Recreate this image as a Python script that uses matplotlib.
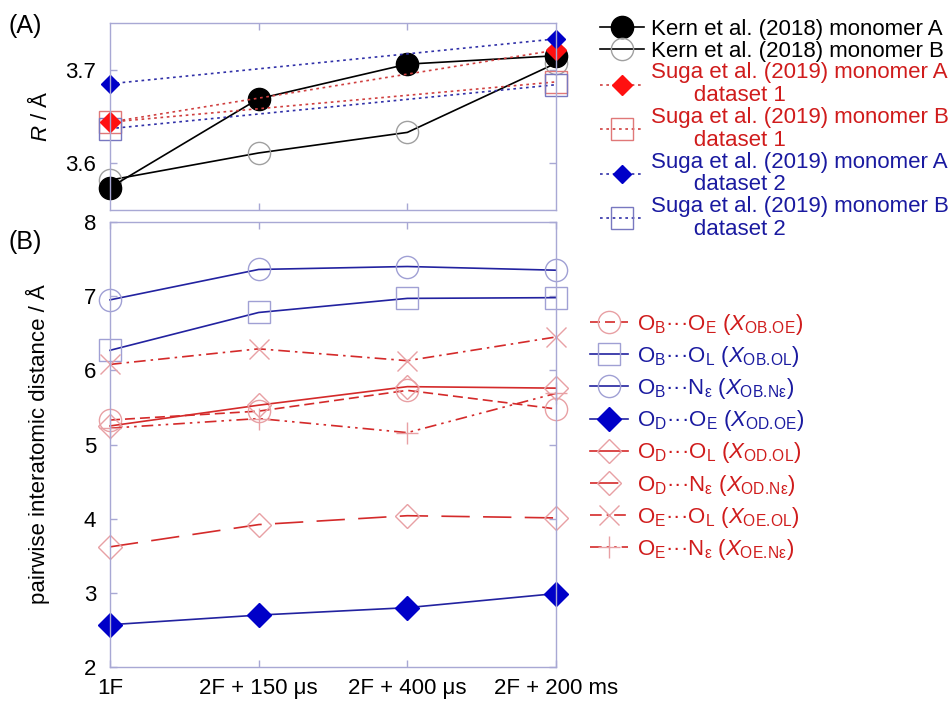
import numpy as np
import matplotlib
matplotlib.use("Agg")
import matplotlib.pyplot as plt
from matplotlib.ticker import MultipleLocator

plt.rcParams['font.family'] = ['Liberation Sans', 'DejaVu Sans']
plt.rcParams['mathtext.fontset'] = 'custom'
plt.rcParams['mathtext.rm'] = 'Liberation Sans'
plt.rcParams['mathtext.it'] = 'Liberation Sans:italic'
plt.rcParams['mathtext.bf'] = 'Liberation Sans:bold'
plt.rcParams['font.size'] = 16

# data
time_points = ["1F", "2F + 150 \u03bcs", "2F + 400 \u03bcs", "2F + 200 ms"]
x_all = [0, 1, 2, 3]
x_suga = [0, 3]

kern_A = [3.574, 3.669, 3.706, 3.715]
kern_B = [3.582, 3.611, 3.633, 3.707]
suga_A_ds1 = [3.644, 3.721]
suga_B_ds1 = [3.644, 3.687]
suga_A_ds2 = [3.685, 3.733]
suga_B_ds2 = [3.637, 3.684]

x_OB_OE = [5.33, 5.45, 5.73, 5.48]
x_OB_OL = [6.27, 6.78, 6.97, 6.98]
x_OB_Ne = [6.95, 7.36, 7.40, 7.35]
x_OD_OE = [2.57, 2.70, 2.80, 2.99]
x_OD_OL = [5.25, 5.53, 5.78, 5.76]
x_OD_Ne = [3.62, 3.92, 4.04, 4.01]
x_OE_OL = [6.08, 6.29, 6.13, 6.45]
x_OE_Ne = [5.22, 5.35, 5.16, 5.69]

# colours
RED = "#d42a2a"
RED_TXT = "#d01c1c"
RED_MK = "#e8a0a4"
BLUE = "#2222a0"
BLUE_TXT = "#1a1aa0"
BLUE_MK = "#a0a0d4"
BLUE_FILL = "#0000c8"
SPINE = "#a8a8d4"
LW = 1.2

W, H = 952, 701
fig = plt.figure(figsize=(W / 100, H / 100), dpi=100)
ax1 = fig.add_axes([110 / W, 1 - 210 / H, 446 / W, 187 / H])
ax2 = fig.add_axes([110 / W, 1 - 667 / H, 446 / W, 445 / H])


def style_axes(ax):
    for s in ax.spines.values():
        s.set_color(SPINE)
        s.set_linewidth(1.0)
    ax.tick_params(direction="in", length=5, width=1.0, color=SPINE,
                   top=True, right=True, labelsize=16, pad=10)
    ax.set_xlim(0, 3)
    ax.set_xticks([1, 2], minor=False)


# ---- panel A ----
dot = (0, (1.6, 2.2))
h_kB, = ax1.plot(x_all, kern_B, "-", color="black", lw=LW, marker="o", ms=16,
                 mfc="none", mec="#a0a0a0", mew=1.0, clip_on=False)
h_kA, = ax1.plot(x_all, kern_A, "-", color="black", lw=LW, marker="o", ms=16,
                 mfc="black", mec="black", clip_on=False)
h_sB1, = ax1.plot(x_suga, suga_B_ds1, ls=dot, color="#d04040", lw=LW, marker="s", ms=16,
                  mfc="none", mec="#e07878", mew=1.0, clip_on=False)
h_sB2, = ax1.plot(x_suga, suga_B_ds2, ls=dot, color="#3030a8", lw=LW, marker="s", ms=16,
                  mfc="none", mec="#7878c0", mew=1.0, clip_on=False)
h_sA1, = ax1.plot(x_suga, suga_A_ds1, ls=dot, color="#d04040", lw=LW, marker="D", ms=10,
                  mfc="#ff1010", mec="#ff1010", clip_on=False)
h_sA2, = ax1.plot(x_suga, suga_A_ds2, ls=dot, color="#3030a8", lw=LW, marker="D", ms=9.5,
                  mfc=BLUE_FILL, mec=BLUE_FILL, clip_on=False)
style_axes(ax1)
ax1.set_ylim(3.55, 3.75)
ax1.yaxis.set_major_locator(MultipleLocator(0.1))
ax1.set_xticklabels([])
ax1.set_ylabel("$R$ / \u00c5", fontsize=16)
ax1.yaxis.set_label_coords(-0.13, 0.5)

sp = "       "
labA = ["Kern et al. (2018) monomer A", "Kern et al. (2018) monomer B",
        "Suga et al. (2019) monomer A\n" + sp + "dataset 1",
        "Suga et al. (2019) monomer B\n" + sp + "dataset 1",
        "Suga et al. (2019) monomer A\n" + sp + "dataset 2",
        "Suga et al. (2019) monomer B\n" + sp + "dataset 2"]
colA = ["black", "black", RED_TXT, RED_TXT, BLUE_TXT, BLUE_TXT]
legA = fig.legend([h_kA, h_kB, h_sA1, h_sB1, h_sA2, h_sB2], labA,
                  loc="upper left", bbox_to_anchor=(600 / W, 1 - 19 / H),
                  frameon=False, fontsize=16, numpoints=1, handlelength=2.0,
                  handletextpad=0.3, labelspacing=0.03, borderpad=0, borderaxespad=0)
for t, c in zip(legA.get_texts(), colA):
    t.set_color(c)
    t.set_linespacing(1.12)

# ---- panel B ----
h1, = ax2.plot(x_all, x_OB_OE, ls=(0, (6, 3)), color=RED, lw=LW, marker="o", ms=16,
               mfc="none", mec=RED_MK, mew=1.0, clip_on=False)
h2, = ax2.plot(x_all, x_OB_OL, "-", color=BLUE, lw=LW, marker="s", ms=16,
               mfc="none", mec=BLUE_MK, mew=1.0, clip_on=False)
h3, = ax2.plot(x_all, x_OB_Ne, "-", color=BLUE, lw=LW, marker="o", ms=16,
               mfc="none", mec=BLUE_MK, mew=1.0, clip_on=False)
h4, = ax2.plot(x_all, x_OD_OE, "-", color=BLUE, lw=LW, marker="D", ms=12,
               mfc=BLUE_FILL, mec=BLUE_FILL, clip_on=False)
h5, = ax2.plot(x_all, x_OD_OL, "-", color=RED, lw=LW, marker="D", ms=12,
               mfc="none", mec=RED_MK, mew=1.0, clip_on=False)
h6, = ax2.plot(x_all, x_OD_Ne, ls=(0, (17, 8)), color=RED, lw=LW, marker="D", ms=12,
               mfc="none", mec=RED_MK, mew=1.0, clip_on=False)
h7, = ax2.plot(x_all, x_OE_OL, ls=(0, (7, 3, 1.5, 3)), color=RED, lw=LW, marker="x", ms=15,
               mec=RED_MK, mew=1.0, clip_on=False)
h8, = ax2.plot(x_all, x_OE_Ne, ls=(0, (7, 3, 1.5, 3, 1.5, 3)), color=RED, lw=LW, marker="+",
               ms=16, mec=RED_MK, mew=1.0, clip_on=False)
style_axes(ax2)
ax2.set_ylim(2, 8)
ax2.yaxis.set_major_locator(MultipleLocator(1))
ax2.set_xticks(x_all)
ax2.set_xticklabels(time_points, fontsize=16)
ax2.tick_params(axis="x", pad=8)
ax2.set_ylabel("pairwise interatomic distance / \u00c5", fontsize=16)
ax2.yaxis.set_label_coords(-0.135, 0.5)

eps = "\u03b5"
labB = [r"O$_\mathrm{B}$···O$_\mathrm{E}$ ($X_\mathrm{OB.\!OE}$)",
        r"O$_\mathrm{B}$···O$_\mathrm{L}$ ($X_\mathrm{OB.\!OL}$)",
        r"O$_\mathrm{B}$···N$_\mathrm{" + eps + r"}$ ($X_\mathrm{OB.\!N" + eps + r"}$)",
        r"O$_\mathrm{D}$···O$_\mathrm{E}$ ($X_\mathrm{OD.\!OE}$)",
        r"O$_\mathrm{D}$···O$_\mathrm{L}$ ($X_\mathrm{OD.\!OL}$)",
        r"O$_\mathrm{D}$···N$_\mathrm{" + eps + r"}$ ($X_\mathrm{OD.\!N" + eps + r"}$)",
        r"O$_\mathrm{E}$···O$_\mathrm{L}$ ($X_\mathrm{OE.\!OL}$)",
        r"O$_\mathrm{E}$···N$_\mathrm{" + eps + r"}$ ($X_\mathrm{OE.\!N" + eps + r"}$)"]
colB = [RED_TXT, BLUE_TXT, BLUE_TXT, BLUE_TXT, RED_TXT, RED_TXT, RED_TXT, RED_TXT]
legB = fig.legend([h1, h2, h3, h4, h5, h6, h7, h8], labB,
                  loc="upper left", bbox_to_anchor=(590 / W, 1 - 312 / H),
                  frameon=False, fontsize=16, numpoints=1, handlelength=1.7,
                  handletextpad=0.4, labelspacing=0.32, borderpad=0, borderaxespad=0)
for t, c in zip(legB.get_texts(), colB):
    t.set_color(c)

fig.text(8 / W, 1 - 26 / H, "(A)", fontsize=18, va="center", ha="left")
fig.text(8 / W, 1 - 242 / H, "(B)", fontsize=18, va="center", ha="left")

fig.savefig("out.png", dpi=100)
